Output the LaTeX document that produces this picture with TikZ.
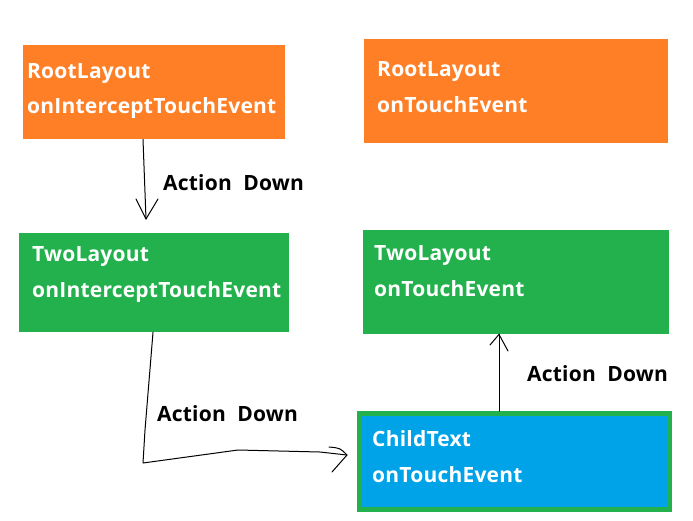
\documentclass[tikz,border=0pt]{standalone}
\usepackage{fontspec}
\setmainfont{Open Sans}[LetterSpace=1.0]
\begin{document}
\begin{tikzpicture}[x=1pt,y=-1pt,
  box/.style={rectangle,draw=none,inner sep=0pt,anchor=north west},
  btxt/.style={anchor=base west,inner sep=0pt,text=white,font=\fontsize{21}{25}\selectfont\bfseries},
  lbl/.style={anchor=base west,inner sep=0pt,text=black,font=\fontsize{21}{25}\selectfont\bfseries},
  conn/.style={draw=black,line width=1pt,line join=round,line cap=round}]
\definecolor{paintorange}{HTML}{FF7F27}
\definecolor{paintgreen}{HTML}{22B14C}
\definecolor{paintblue}{HTML}{00A2E8}
\useasboundingbox[fill=white] (0,0) rectangle (693,520);

% boxes
\node[box,fill=paintorange,minimum width=262,minimum height=94] (r1) at (23,45) {};
\node[box,fill=paintorange,minimum width=304,minimum height=104] (r2) at (364,39) {};
\node[box,fill=paintgreen,minimum width=270,minimum height=99] (g1) at (19,233) {};
\node[box,fill=paintgreen,minimum width=306,minimum height=104] (g2) at (363,230) {};
\node[rectangle,fill=paintblue,draw=paintgreen,line width=5pt,inner sep=0pt,
  minimum width=310,minimum height=96] (c1) at (514.5,461.5) {};

% box texts
\node[btxt] (r1a) at (27,78) {RootLayout};
\node[btxt] (r1b) at (27,113) {onInterceptTouchEvent};
\node[btxt] (r2a) at (377,76) {RootLayout};
\node[btxt] (r2b) at (377,112) {onTouchEvent};
\node[btxt] (g1a) at (32,261) {TwoLayout};
\node[btxt] (g1b) at (32,297) {onInterceptTouchEvent};
\node[btxt] (g2a) at (374,260) {TwoLayout};
\node[btxt] (g2b) at (374,296) {onTouchEvent};
\node[btxt] (c1a) at (372,446) {ChildText};
\node[btxt] (c1b) at (372,482) {onTouchEvent};

% labels
\node[lbl] (l1) at (163,190) {Action\hspace{0.55em}Down};
\node[lbl] (l2) at (157,421) {Action\hspace{0.55em}Down};
\node[lbl] (l3) at (527,381) {Action\hspace{0.55em}Down};

% connector 1
\coordinate (a1s) at (r1.south -| 143,0);
\coordinate (a1e) at (146,219);
\draw[conn] (a1s) -- (a1e);
\draw[conn] (136,199) -- (a1e) -- (158,199);

% connector 2
\coordinate (a2s) at (g1.south -| 153,0);
\coordinate (a2e) at (347,455);
\draw[conn] (a2s) -- (145,430) -- (143,463) -- (238,450) -- (320,452) -- (a2e);
\draw[conn] (329,447) .. controls (340,448) .. (a2e) -- (332,472);

% connector 3
\coordinate (a3s) at (c1.north -| 499,0);
\coordinate (a3e) at (g2.south -| 499,0);
\draw[conn] (a3s) -- (a3e);
\draw[conn] (490,345) -- (a3e) -- (508,351);
\end{tikzpicture}
\end{document}
